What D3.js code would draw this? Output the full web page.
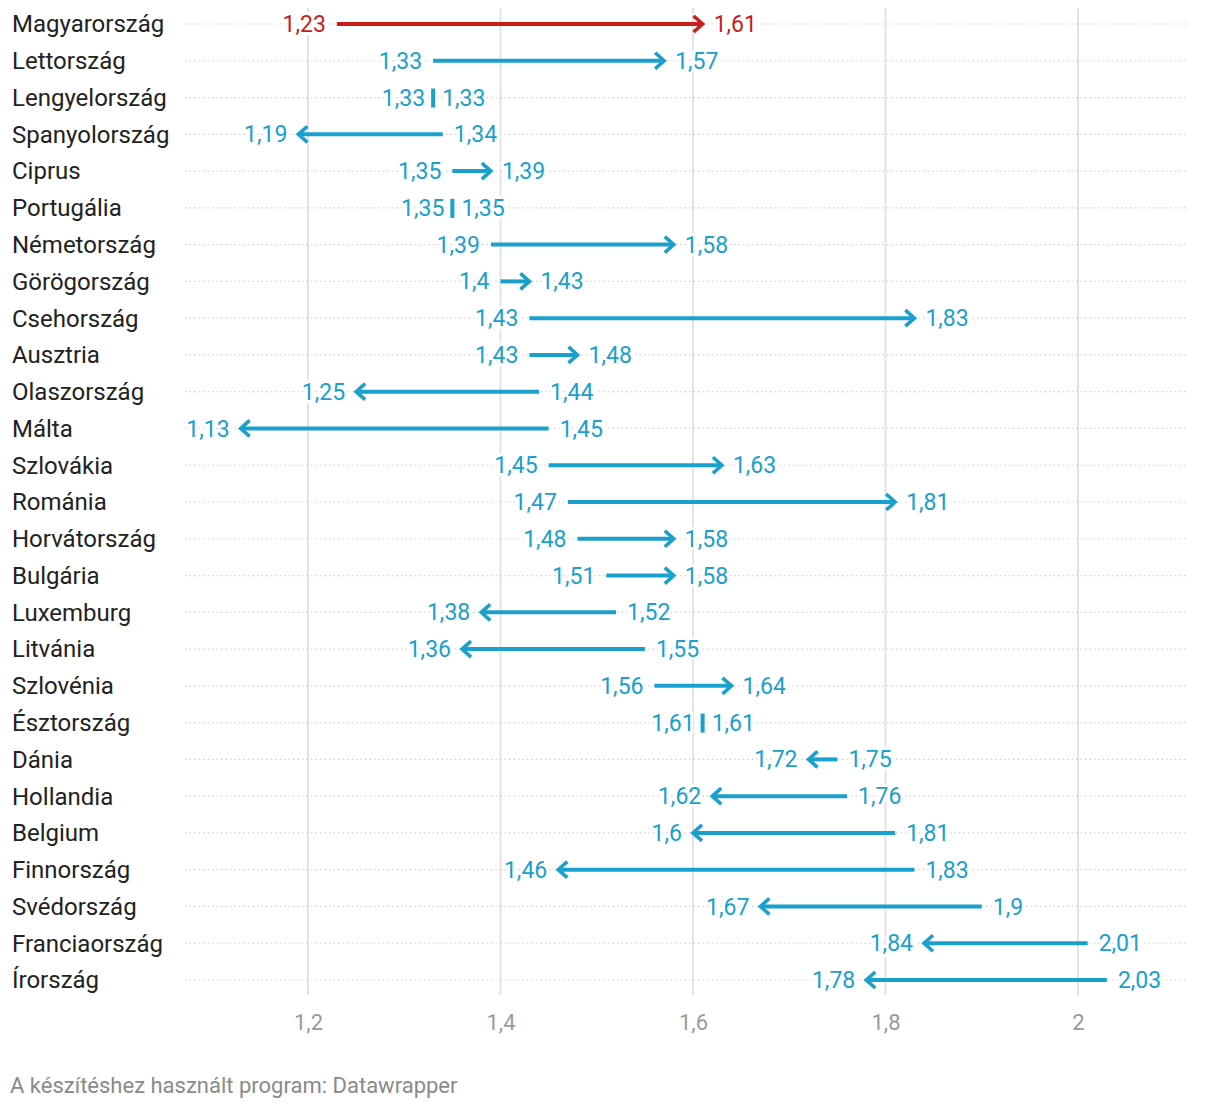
<!DOCTYPE html>
<html><head><meta charset="utf-8">
<script src="https://cdn.jsdelivr.net/npm/d3@7"></script>
<style>
body{margin:0;background:#fff;font-family:Roboto,"Noto Sans",sans-serif;}
svg{display:block}
</style></head>
<body>
<svg id="chart" width="1220" height="1108"></svg>
<script>
const countries = ["Magyarország","Lettország","Lengyelország","Spanyolország","Ciprus","Portugália","Németország","Görögország","Csehország","Ausztria","Olaszország","Málta","Szlovákia","Románia","Horvátország","Bulgária","Luxemburg","Litvánia","Szlovénia","Észtország","Dánia","Hollandia","Belgium","Finnország","Svédország","Franciaország","Írország"];
const startValues = [1.23,1.33,1.33,1.34,1.35,1.35,1.39,1.4,1.43,1.43,1.44,1.45,1.45,1.47,1.48,1.51,1.52,1.55,1.56,1.61,1.75,1.76,1.81,1.83,1.9,2.01,2.03];
const endValues   = [1.61,1.57,1.33,1.19,1.39,1.35,1.58,1.43,1.83,1.48,1.25,1.13,1.63,1.81,1.58,1.58,1.38,1.36,1.64,1.61,1.72,1.62,1.6,1.46,1.67,1.84,1.78];
const highlighted = ["Magyarország"];
const tickValues = [1.2,1.4,1.6,1.8,2.0];
const footer = "A készítéshez használt program: Datawrapper";

const data = countries.map((c,i)=>({c, s:startValues[i], e:endValues[i]}));
const fmt = v => String(v).replace(".", ",");

const svg = d3.select("#chart");
const x = d3.scaleLinear().domain([1.2, 2.0]).range([308, 1078]);
const y = d3.scalePoint().domain(countries).range([24, 980]);

const RED = "#c71e1d", BLUE = "#1aa0cc";
const color = d => highlighted.includes(d.c) ? RED : BLUE;

// gridlines
svg.append("g").selectAll("line").data(tickValues).join("line")
  .attr("x1", d=>x(d)).attr("x2", d=>x(d))
  .attr("y1", 8).attr("y2", 995)
  .attr("stroke", "#e3e3e3").attr("stroke-width", 2);

// dotted row lines
svg.append("g").selectAll("line").data(data).join("line")
  .attr("x1", 185).attr("x2", 1188)
  .attr("y1", d=>y(d.c)).attr("y2", d=>y(d.c))
  .attr("stroke", "#d0d0d0").attr("stroke-width", 1.2)
  .attr("stroke-dasharray", "1.5,3");

// axis labels
const axis = d3.axisBottom(x).tickValues(tickValues).tickFormat(d=>fmt(d)).tickSize(0);
const ag = svg.append("g").attr("transform", "translate(0,1010)").call(axis);
ag.select(".domain").remove();
ag.selectAll("text").attr("fill", "#999").attr("font-size", 22)
  .attr("font-family", "Roboto, sans-serif").attr("dy", "0.35em").attr("y", 12);

// country labels
svg.append("g").selectAll("text").data(data).join("text")
  .attr("x", 12).attr("y", d=>y(d.c)).attr("dy", "0.35em")
  .attr("font-size", 24).attr("fill", "#222")
  .text(d=>d.c);

const g = svg.append("g");
const rows = g.selectAll("g").data(data).join("g");

function label(sel){
  sel.attr("dy","0.35em").attr("font-size",23)
    .attr("fill", d=>color(d))
    .attr("stroke","#fff").attr("stroke-width",6).attr("paint-order","stroke");
}

rows.each(function(d){
  const r = d3.select(this);
  const yy = y(d.c);
  const col = color(d);
  const xs = x(d.s), xe = x(d.e);
  if (d.s === d.e) {
    r.append("rect").attr("x", xs-2).attr("y", yy-9).attr("width", 4).attr("height", 19).attr("fill", col);
    r.append("text").datum(d).call(label).attr("x", xs-8).attr("y", yy).attr("text-anchor","end").text(fmt(d.s));
    r.append("text").datum(d).call(label).attr("x", xs+9).attr("y", yy).attr("text-anchor","start").text(fmt(d.e));
    return;
  }
  const dir = xe > xs ? 1 : -1;
  r.append("line").attr("x1", xs).attr("x2", xe - dir*2).attr("y1", yy).attr("y2", yy)
    .attr("stroke", col).attr("stroke-width", 4);
  r.append("path")
    .attr("d", `M${xe - dir*9},${yy-8} L${xe},${yy} L${xe - dir*9},${yy+8}`)
    .attr("fill","none").attr("stroke", col).attr("stroke-width", 3.6)
    .attr("stroke-linecap","butt").attr("stroke-linejoin","miter");
  r.append("text").datum(d).call(label).attr("x", xs - dir*11).attr("y", yy)
    .attr("text-anchor", dir>0 ? "end" : "start").text(fmt(d.s));
  r.append("text").datum(d).call(label).attr("x", xe + dir*11).attr("y", yy)
    .attr("text-anchor", dir>0 ? "start" : "end").text(fmt(d.e));
});

svg.append("text").attr("x", 10).attr("y", 1085).attr("dy","0.35em")
  .attr("font-size", 22).attr("fill", "#8a8a8a").text(footer);
</script>
</body></html>
